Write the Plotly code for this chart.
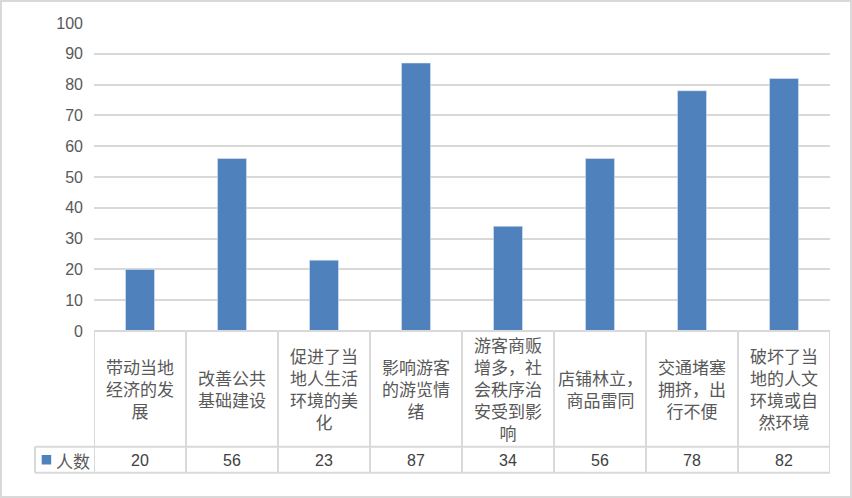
import plotly.graph_objects as go

categories = ["带动当地经济的发展", "改善公共基础建设", "促进了当地人生活环境的美化",
              "影响游客的游览情绪", "游客商贩增多，社会秩序治安受到影响",
              "店铺林立，商品雷同", "交通堵塞拥挤，出行不便", "破坏了当地的人文环境或自然环境"]
values = [20, 56, 23, 87, 34, 56, 78, 82]
series_name = "人数"
y_ticks = [0, 10, 20, 30, 40, 50, 60, 70, 80, 90, 100]

W, H = 852, 498
L, R, T, B = 94, 22, 23, 167
PW, PH = W - L - R, H - T - B
BAR_COLOR = "#4F81BD"
GRID = "#D9D9D9"
CJK = "Noto Sans CJK SC"
LAT = "Liberation Sans"


def px_x(x):
    return (x - L) / PW


def px_y(y):
    return (H - B - y) / PH


def wrap(s, n=4):
    lines, cur = [], ""
    for ch in s:
        if len(cur) >= n and ch not in "，,。":
            lines.append(cur)
            cur = ""
        cur += ch
    if cur:
        lines.append(cur)
    return "<br>".join(lines)


idx = list(range(len(categories)))
fig = go.Figure(go.Bar(x=idx, y=values, width=29 / 92, marker_color=BAR_COLOR,
                       name=series_name, showlegend=False, hoverinfo="y"))

shapes, annotations = [], []
# table vertical lines
for k in range(len(categories) + 1):
    shapes.append(dict(type="line", xref="x", yref="paper", x0=k - 0.5, x1=k - 0.5,
                       y0=px_y(331), y1=px_y(472.7), line=dict(color=GRID, width=2)))
# legend cell left edge
shapes.append(dict(type="line", xref="paper", yref="paper", x0=px_x(35), x1=px_x(35),
                   y0=px_y(446.7), y1=px_y(472.7), line=dict(color=GRID, width=2)))
# horizontal lines
shapes.append(dict(type="line", xref="paper", yref="paper", x0=0, x1=1,
                   y0=px_y(331), y1=px_y(331), line=dict(color=GRID, width=2)))
for yy in (446.7, 472.7):
    shapes.append(dict(type="line", xref="paper", yref="paper", x0=px_x(35), x1=1,
                       y0=px_y(yy), y1=px_y(yy), line=dict(color=GRID, width=2)))
# legend marker
shapes.append(dict(type="rect", xref="paper", yref="paper", x0=px_x(41.7), x1=px_x(51.2),
                   y0=px_y(464.5), y1=px_y(455), fillcolor=BAR_COLOR, line=dict(width=0)))
# outer border
shapes.append(dict(type="rect", xref="paper", yref="paper", x0=px_x(1), x1=px_x(851),
                   y0=px_y(497), y1=px_y(1), line=dict(color=GRID, width=2)))

for i, (c, v) in enumerate(zip(categories, values)):
    annotations.append(dict(x=i, y=px_y(388.5), xref="x", yref="paper", text=wrap(c),
                            showarrow=False, align="center", xanchor="center", yanchor="middle",
                            font=dict(family=CJK, size=17, color="#595959")))
    annotations.append(dict(x=i, y=px_y(460), xref="x", yref="paper", text=str(v),
                            showarrow=False, xanchor="center", yanchor="middle",
                            font=dict(family=LAT, size=16, color="#404040")))
annotations.append(dict(x=px_x(72.5), y=px_y(460), xref="paper", yref="paper", text=series_name,
                        showarrow=False, xanchor="center", yanchor="middle",
                        font=dict(family=CJK, size=17, color="#595959")))

fig.update_layout(
    width=W, height=H, margin=dict(l=L, r=R, t=T, b=B),
    paper_bgcolor="white", plot_bgcolor="white",
    shapes=shapes, annotations=annotations,
    xaxis=dict(range=[-0.5, len(categories) - 0.5], showticklabels=False, showgrid=False,
               zeroline=False, showline=False, fixedrange=True),
    yaxis=dict(range=[0, 100], tickvals=y_ticks, showgrid=True, gridcolor=GRID, gridwidth=2,
               zeroline=False, showline=False, ticks="", ticklabelstandoff=10,
               tickfont=dict(family=LAT, size=16, color="#595959"), fixedrange=True),
)
fig.write_html("out.html", config={"displayModeBar": False},
               post_script="document.body.style.margin='0px';document.body.style.overflow='hidden';")
